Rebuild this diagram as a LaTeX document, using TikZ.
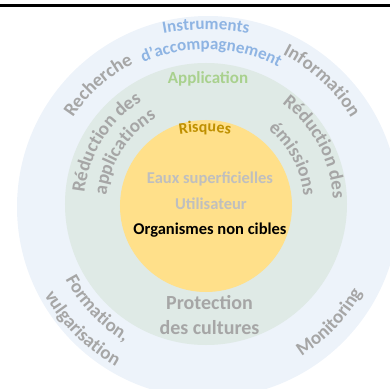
\documentclass[tikz,border=0pt]{standalone}
\usepackage{fontspec}
\setmainfont{Carlito}
\usetikzlibrary{decorations.text}

\definecolor{ringblue}{RGB}{237,243,250}
\definecolor{ringgreen}{RGB}{223,234,230}
\definecolor{coreyellow}{RGB}{255,224,138}
\definecolor{textblue}{RGB}{142,180,227}
\definecolor{textgreen}{RGB}{169,209,142}
\definecolor{textgold}{RGB}{191,144,0}
\definecolor{textgray}{RGB}{166,166,166}
\definecolor{textlight}{RGB}{191,191,191}

\newcommand{\ringfont}{\bfseries\fontsize{19}{19}\selectfont\color{textgray}}
\newcommand{\bluefont}{\bfseries\fontsize{17}{17}\selectfont\color{textblue}}

\tikzset{
  curved/.style={decorate, decoration={text along path, text align=center, text={#1}}},
  coretext/.style={font=\bfseries\fontsize{16.5}{16.5}\selectfont, inner sep=0pt}
}

\begin{document}
\begin{tikzpicture}[x=1pt, y=1pt]
  \useasboundingbox (-206,-183) rectangle (184,205);
  % the three discs
  \fill[ringblue] (2,-2) circle (191);
  \fill[ringgreen] (0,1) circle (141);
  \fill[coreyellow] (0,-1) circle (86);
  % rule at the top
  \draw[line width=3pt] (-206,199.5) -- (184,199.5);

  % outer ring
  \path[curved={|\bluefont|Instruments}] (0,-60) ++(130:235.5) arc[start angle=130, end angle=50, radius=235.5];
  \path[curved={|\bluefont|d'accompagnement}] (148:155.5) arc[start angle=148, end angle=28, radius=155.5];
  \path[curved={|\ringfont|Recherche}] (177:159) arc[start angle=177, end angle=87, radius=159];
  \path[curved={|\ringfont|Information}] (92:169) arc[start angle=92, end angle=2, radius=169];
  \path[curved={|\ringfont|Monitoring}] (-88:179) arc[start angle=-88, end angle=1, radius=179];
  \path[curved={|\ringfont|Formation,}] (178:159) arc[start angle=178, end angle=269, radius=159];
  \path[curved={|\ringfont|vulgarisation}] (175:185) arc[start angle=175, end angle=275, radius=185];

  % middle ring
  \node[coretext, font=\bfseries\fontsize{17}{17}\selectfont, text=textgreen] (application) at (2,126) {Application};
  \path[curved={|\ringfont|Réduction des}] (203:122) arc[start angle=203, end angle=93, radius=122];
  \path[curved={|\ringfont|applications}] (202:100) arc[start angle=202, end angle=92, radius=100];
  \path[curved={|\ringfont|Réduction des}] (83:127) arc[start angle=83, end angle=-27, radius=127];
  \path[curved={|\ringfont|émissions}] (83:98) arc[start angle=83, end angle=-27, radius=98];
  \node[coretext, align=center, text=textgray, font=\bfseries\fontsize{20}{25}\selectfont] (cultures) at (3.5,-110.5) {Protection\\des cultures};

  % core
  \path[curved={|\bfseries\fontsize{16}{16}\selectfont\color{textgold}|Risques}] (-1,-73) ++(115:146) arc[start angle=115, end angle=65, radius=146];
  \node[coretext, text=textlight] (eaux) at (4,26) {Eaux superficielles};
  \node[coretext, text=textlight] (utilisateur) at (5,1) {Utilisateur};
  \node[coretext] (organismes) at (4,-25) {Organismes non cibles};
\end{tikzpicture}
\end{document}
